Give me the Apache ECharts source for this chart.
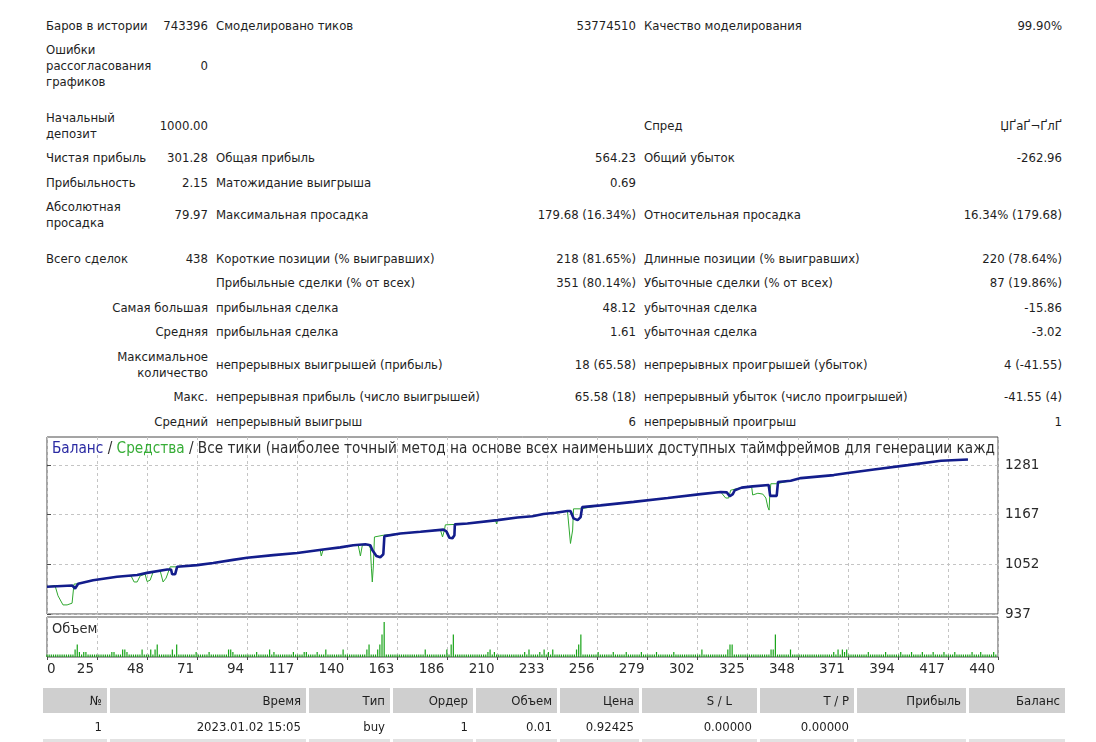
<!DOCTYPE html>
<html>
<head>
<meta charset="utf-8">
<script src="https://cdn.jsdelivr.net/npm/echarts@6/dist/echarts.min.js"></script>
<style>
body{margin:0;background:#fff;width:1096px;height:742px;overflow:hidden;
  font-family:"DejaVu Sans Condensed","DejaVu Sans",sans-serif;font-size:13px;color:#1e1e1e;}
#summary{position:absolute;left:42px;top:13.5px;border-collapse:collapse;table-layout:fixed;width:1024px;}
#summary td{padding:0 4px;line-height:16px;white-space:pre;vertical-align:middle;}
#summary tr.l1{height:24.5px}
#summary tr.l2{height:40.5px}
#summary tr.l3{height:56.5px}
#summary tr.gap{height:11px}
#summary td.r{text-align:right}
#chart{position:absolute;left:0;top:430px;width:1096px;height:260px;}
#trades{position:absolute;left:40px;top:687px;border-collapse:separate;border-spacing:3px 1px;table-layout:fixed;}
#trades td{padding:0 5px 0 0;text-align:right;height:24px;white-space:nowrap;}
#trades tr.head td{background:#cfcfcf;height:25px;}
#trades tr.head td.sl{padding-right:25px;}
#trades tr.alt td{background:#e2e2e2;}
</style>
</head>
<body>
<table id="summary">
<colgroup><col style="width:110px"><col style="width:60px"><col style="width:300px"><col style="width:128px"><col style="width:300px"><col style="width:126px"></colgroup>
<tbody id="summaryBody"></tbody>
</table>
<div id="chart"></div>
<table id="trades"><tbody id="tradesBody"></tbody></table>
<script>
// отчёт тестера: строки сводки (null = пустая строка-разделитель)
var summaryRows = [
  ['Баров в истории', '743396', 'Смоделировано тиков', '53774510', 'Качество моделирования', '99.90%'],
  ['Ошибки\nрассогласования\nграфиков', '0', '', '', '', ''],
  null,
  ['Начальный\nдепозит', '1000.00', '', '', 'Спред', 'ЏҐаҐ¬ҐлҐ'],
  ['Чистая прибыль', '301.28', 'Общая прибыль', '564.23', 'Общий убыток', '-262.96'],
  ['Прибыльность', '2.15', 'Матожидание выигрыша', '0.69', '', ''],
  ['Абсолютная\nпросадка', '79.97', 'Максимальная просадка', '179.68 (16.34%)', 'Относительная просадка', '16.34% (179.68)'],
  null,
  ['Всего сделок', '438', 'Короткие позиции (% выигравших)', '218 (81.65%)', 'Длинные позиции (% выигравших)', '220 (78.64%)'],
  ['', '', 'Прибыльные сделки (% от всех)', '351 (80.14%)', 'Убыточные сделки (% от всех)', '87 (19.86%)'],
  ['Самая большая', 'прибыльная сделка', '48.12', 'убыточная сделка', '-15.86'],
  ['Средняя', 'прибыльная сделка', '1.61', 'убыточная сделка', '-3.02'],
  ['Максимальное\nколичество', 'непрерывных выигрышей (прибыль)', '18 (65.58)', 'непрерывных проигрышей (убыток)', '4 (-41.55)'],
  ['Макс.', 'непрерывная прибыль (число выигрышей)', '65.58 (18)', 'непрерывный убыток (число проигрышей)', '-41.55 (4)'],
  ['Средний', 'непрерывный выигрыш', '6', 'непрерывный проигрыш', '1']
];

var tradeHeaders = ['№', 'Время', 'Тип', 'Ордер', 'Объем', 'Цена', 'S / L', 'T / P', 'Прибыль', 'Баланс'];
var tradeRows = [
  ['1', '2023.01.02 15:05', 'buy', '1', '0.01', '0.92425', '0.00000', '0.00000', '', ''],
  ['', '', '', '', '', '', '', '', '', '']
];

// график: номер сделки -> баланс / средства
var balance = [
  [0,1000],[11.6,1003],[13,996],[14.4,1007],[21.3,1015],[32.4,1023],[41.7,1027],[46.3,1032],[55.6,1040],
  [57.4,1040],[57.9,1029],[59.3,1029],[60.2,1046],[69.5,1050],[76.9,1055],[86.1,1062],[92.6,1067],
  [104.7,1073],[115.8,1078],[127.8,1086],[135.7,1091],[141.7,1096],[147.3,1098],[149.6,1096],[150.5,1085],
  [152.4,1071],[154.2,1068],[155.6,1075],[156.1,1117],[163.5,1123],[172.8,1127],[183.4,1132],[184.8,1128],
  [186.2,1113],[187.6,1112],[188.5,1119],[188.7,1144],[194.5,1146],[208.4,1154],[217.7,1160],[224.6,1163],
  [229.7,1168],[235.3,1171],[240.8,1175],[242.2,1175],[243.6,1158],[245.5,1154],[246.9,1161],[247.6,1184],
  [256.1,1188],[271.4,1196],[287.2,1205],[302.4,1214],[311.7,1219],[314.5,1218],[315.9,1209],[317.3,1214],
  [318.2,1223],[321.4,1229],[326.5,1232],[333.9,1235],[334.6,1210],[337.6,1210],[338.2,1242],[344.1,1245],
  [348.8,1251],[364,1258],[370.5,1263],[382.6,1271],[398.3,1281],[413.6,1291],[426.1,1294]
];
var equity = [
  [0,1000],[3.7,1003],[5.1,979],[7.4,958],[9.3,958],[11.6,962],[12.3,997],[12.5,1006],[14.4,1007],
  [21.3,1015],[32.4,1023],[38.9,1025],[40.3,1011],[41.7,1011],[43.1,1025],[45.4,1029],[46.3,1012],
  [47.7,1015],[49.1,1034],[52.3,1038],[53.7,1011],[55.1,1020],[57,1046],[60.2,1046],[69.5,1050],
  [76.9,1055],[86.1,1062],[92.6,1067],[104.7,1073],[115.8,1078],[126.4,1085],[126.9,1071],[127.8,1086],
  [135.7,1091],[141.7,1096],[144,1096],[145,1071],[145.9,1096],[148.7,1098],[149.6,1089],[150.1,1043],
  [150.5,1011],[151,1048],[151.5,1115],[155.6,1119],[163.5,1123],[172.8,1127],[182,1132],[183,1115],
  [183.9,1131],[184.3,1143],[188.7,1144],[194.5,1146],[207.5,1154],[208,1145],[208.4,1154],[217.7,1160],
  [224.6,1163],[229.7,1168],[235.3,1171],[240.8,1175],[241.3,1175],[242.2,1100],[243.2,1131],[243.6,1180],
  [246.9,1180],[247.6,1184],[256.1,1188],[271.4,1196],[287.2,1205],[302.4,1214],[311.7,1219],[312.6,1218],
  [314,1205],[315.4,1205],[316.3,1223],[321.4,1229],[326,1232],[326.5,1212],[328.9,1216],[331.2,1214],
  [332.6,1205],[333.5,1184],[334.1,1177],[334.4,1212],[334.9,1238],[337.6,1238],[338.2,1242],[344.1,1245],
  [348.8,1251],[364,1258],[370.5,1263],[382.6,1271],[398.3,1281],[413.6,1291],[426.1,1294]
];

// объем каждой сделки, в сотых лота
var volumes = [
  1,1,1,1,1,1,1,1,1,1,1,1,1,3,5,2,1,2,2,1,
  1,1,1,1,1,1,1,1,1,1,2,2,1,1,1,3,3,2,1,1,
  1,1,1,1,3,1,1,1,3,1,3,5,1,1,1,1,1,1,3,1,
  5,1,1,1,1,1,1,1,1,2,1,1,1,1,1,2,1,1,1,1,
  1,1,1,1,3,3,2,1,1,1,1,1,1,1,1,1,1,2,1,1,
  1,1,1,3,1,2,1,1,1,1,1,1,1,1,2,1,1,1,1,2,
  2,1,1,1,1,2,1,1,1,3,1,1,1,1,1,1,1,3,1,1,
  1,1,1,1,1,1,1,1,3,5,1,1,1,3,5,9,14,1,1,1,
  1,1,1,1,1,1,1,1,1,1,1,1,1,1,1,3,1,1,1,1,
  1,1,1,1,1,3,1,5,9,1,1,1,1,1,1,1,1,1,1,1,
  1,1,1,1,2,3,1,2,1,1,1,1,1,1,1,1,1,1,1,1,
  1,2,1,3,1,1,1,1,2,1,3,1,2,1,3,1,1,1,1,1,
  1,1,1,1,1,3,5,9,1,1,1,1,1,1,1,2,1,1,1,1,
  1,1,2,1,1,1,1,1,2,1,1,1,1,1,1,2,1,1,1,1,
  1,1,2,1,1,1,1,1,1,1,2,1,1,1,1,1,1,1,1,1,
  1,1,1,3,1,1,1,1,1,1,1,1,1,1,1,3,5,5,1,1,
  1,1,1,1,1,1,1,1,1,1,1,1,1,1,1,3,3,9,1,1,
  1,1,1,1,3,1,1,1,1,1,1,1,1,1,1,1,1,1,1,1,
  1,1,1,1,2,1,3,1,3,2,3,1,1,1,1,1,1,1,1,1,
  2,1,1,1,1,1,1,1,2,1,1,1,1,1,1,2,1,1,1,1,
  2,1,1,1,1,2,1,1,1,1,2,1,1,1,1,2,1,1,1,1,
  2,1,1,1,1,1,1,1,2,1,1,1,2,1,1,1,1,1,2,1
];

var xLabels = ['0','25','48','71','94','117','140','163','186','210','233','256','279','302','325','348','371','394','417','440'];
var yLabels = [937, 1052, 1167, 1281];

var chartTitle = 'Все тики (наиболее точный метод на основе всех наименьших доступных таймфреймов для генерации каждого тика)';

var FONT = '"DejaVu Sans Condensed", "DejaVu Sans", sans-serif';

function buildSummary(){
  var html = '';
  summaryRows.forEach(function(row){
    if(!row){ html += '<tr class="gap"><td colspan="6"></td></tr>'; return; }
    var lines = 1;
    row.forEach(function(c){ lines = Math.max(lines, c.split('\n').length); });
    html += '<tr class="l' + lines + '">';
    if(row.length == 5){
      html += '<td class="r" colspan="2">' + row[0] + '</td><td>' + row[1] + '</td><td class="r">' + row[2] +
              '</td><td>' + row[3] + '</td><td class="r">' + row[4] + '</td>';
    } else {
      for(var i = 0; i < 6; i++)
        html += '<td' + (i % 2 ? ' class="r"' : '') + '>' + row[i] + '</td>';
    }
    html += '</tr>';
  });
  document.getElementById('summaryBody').innerHTML = html;
}

function buildTrades(){
  var widths = [59, 191, 76, 75, 76, 74, 110, 89, 104, 91];
  var html = '<tr class="head">';
  tradeHeaders.forEach(function(h, i){
    // у S / L подпись сдвинута влево, ширина колонки та же
    var w = i == 6 ? widths[i] - 20 : widths[i];
    html += '<td' + (i == 6 ? ' class="sl"' : '') + ' style="width:' + w + 'px">' + h + '</td>';
  });
  html += '</tr>';
  tradeRows.forEach(function(r, k){
    html += '<tr' + (k % 2 ? ' class="alt"' : '') + '>';
    r.forEach(function(c){ html += '<td>' + c + '</td>'; });
    html += '</tr>';
  });
  document.getElementById('tradesBody').innerHTML = html;
}

// обрезаем заголовок по ширине окна графика (как в терминале)
function clipText(prefix, text, maxW, font){
  var ctx = document.createElement('canvas').getContext('2d');
  ctx.font = font;
  var avail = maxW - ctx.measureText(prefix).width;
  var s = text;
  while(s.length && ctx.measureText(s).width > avail) s = s.slice(0, -1);
  return s;
}

buildSummary();
buildTrades();

var chart = echarts.init(document.getElementById('chart'));
var xStep = 440 / (xLabels.length - 1);
var xTicks = xLabels.map(function(l, i){ return i * xStep; });
var dash = {show: true, lineStyle: {color: '#c4c4c4', type: [3, 3], width: 1}};
var titleSize = 15.2;
var titleFont = titleSize + 'px ' + FONT;
var titleTail = clipText('Баланс / Средства / ', chartTitle, 947, titleFont);

var option = {
  animation: false,
  textStyle: {fontFamily: FONT},
  grid: [
    {left: 47, right: 98, top: 7, height: 177, show: true, borderColor: '#4a4a4a', borderWidth: 1},
    {left: 47, right: 98, top: 187, height: 40, show: true, borderColor: '#4a4a4a', borderWidth: 1}
  ],
  xAxis: [
    {type: 'value', gridIndex: 0, min: 0, max: 440,
     axisLine: {show: false}, axisTick: {show: false, customValues: xTicks},
     axisLabel: {show: false, customValues: xTicks}, splitLine: dash},
    {type: 'value', gridIndex: 1, min: 0, max: 440,
     axisLine: {show: false},
     axisTick: {show: true, length: 3, customValues: xTicks, lineStyle: {color: '#4a4a4a'}},
     axisLabel: {customValues: xTicks, fontFamily: '"DejaVu Sans"', fontSize: 13.5, color: '#2a2a2a',
       margin: 5, align: 'right', alignMinLabel: 'left', padding: [0, 3, 0, 0],
       showMinLabel: true, showMaxLabel: true,
       formatter: function(v){ return xLabels[Math.round(v / xStep)]; }},
     splitLine: dash}
  ],
  yAxis: [
    {type: 'value', gridIndex: 0, position: 'right', min: 937, max: 1346,
     axisLine: {show: false},
     axisTick: {show: true, length: 4, customValues: yLabels, lineStyle: {color: '#4a4a4a'}},
     axisLabel: {customValues: yLabels, fontFamily: '"DejaVu Sans"', fontSize: 13.5, color: '#2a2a2a', margin: 7,
       formatter: function(v){ return String(v); }},
     splitLine: dash},
    {type: 'value', gridIndex: 1, min: 0, max: 16, show: false, splitLine: {show: false}}
  ],
  graphic: [
    {type: 'text', left: 52, top: 12, z: 10, style: {
      text: '{b|Баланс} / {g|Средства} / ' + titleTail,
      fontFamily: FONT, fontSize: titleSize, fill: '#2e2e2e',
      rich: {b: {fill: '#2b2ba3', fontFamily: FONT, fontSize: titleSize}, g: {fill: '#37ad37', fontFamily: FONT, fontSize: titleSize}}
    }},
    {type: 'text', left: 52, top: 192, z: 10, style: {text: 'Объем', fontFamily: FONT, fontSize: 14.5, fill: '#2e2e2e'}}
  ],
  series: [
    {name: 'Средства', type: 'line', xAxisIndex: 0, yAxisIndex: 0, data: equity, symbol: 'none',
     lineStyle: {color: '#2fa82f', width: 1}, z: 2},
    {name: 'Баланс', type: 'line', xAxisIndex: 0, yAxisIndex: 0, data: balance, symbol: 'none',
     lineStyle: {color: '#131d8c', width: 2.6}, z: 3},
    {name: 'Объем', type: 'bar', xAxisIndex: 1, yAxisIndex: 1, barWidth: 1.2,
     data: volumes.map(function(v, i){ return [i, v]; }),
     itemStyle: {color: '#17a317'}}
  ]
};
chart.setOption(option);
</script>
</body>
</html>
